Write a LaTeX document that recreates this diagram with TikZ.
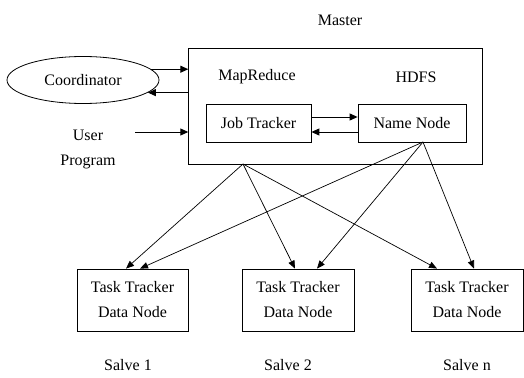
\documentclass[tikz,border=0pt]{standalone}
\usepackage{fontspec}
\setmainfont{Liberation Serif}
\usetikzlibrary{shapes.geometric,arrows.meta}
\begin{document}
\begin{tikzpicture}[x=1pt,y=-1pt,
  every node/.style={font=\fontsize{16}{25}\selectfont, inner sep=0pt},
  box/.style={draw, line width=0.8pt},
  arr/.style={-{Triangle[length=8pt,width=7pt]}, line width=1pt},
  darr/.style={-{Triangle[length=8pt,width=6.5pt]}, line width=0.7pt}]
\useasboundingbox (0,0) rectangle (524,377);
% nodes
\node (mastertxt) at (340,20) {Master};
\node[box, minimum width=294pt, minimum height=116pt] (master) at (335.7,106.3) {};
\node[box, ellipse, minimum width=152pt, minimum height=47pt] (coord) at (83,80) {Coordinator};
\node (mr) at (257,77) {MapReduce};
\node (hdfs) at (416,77) {HDFS};
\node[box, minimum width=105pt, minimum height=38pt] (jt) at (258.5,123) {Job Tracker};
\node[box, minimum width=108pt, minimum height=38pt] (nn) at (412,123) {Name Node};
\node[align=center] (user) at (88,149) {User\\Program};
\node[box, align=center, minimum width=111pt, minimum height=62pt] (s1) at (132.5,300) {Task Tracker\\Data Node};
\node[box, align=center, minimum width=112pt, minimum height=62pt] (s2) at (298,300) {Task Tracker\\Data Node};
\node[box, align=center, minimum width=112pt, minimum height=62pt] (s3) at (467,300) {Task Tracker\\Data Node};
\node (l1) at (128,365) {Salve 1};
\node (l2) at (288,365) {Salve 2};
\node (l3) at (467,365) {Salve n};
\coordinate (userstart) at (135,132);
\coordinate (mrsrc) at (243,164);
\coordinate (nnsrc) at (423,142);
% connectors
\draw[arr] (coord.9) -- (coord.9 -| master.west);
\draw[arr] (coord.-11 -| master.west) -- (coord.-11);
\draw[arr] (userstart) -- (userstart -| master.west);
\draw[arr] ([yshift=6pt]jt.east) -- ([yshift=6pt]nn.west);
\draw[arr] ([yshift=-9pt]nn.west) -- ([yshift=-9pt]jt.east);
\draw[darr] (mrsrc) -- ([xshift=-6.5pt]s1.north);
\draw[darr] (mrsrc) -- ([xshift=-3pt]s2.north);
\draw[darr] (mrsrc) -- ([xshift=-30pt]s3.north);
\draw[darr] (nnsrc) -- ([xshift=7.5pt]s1.north);
\draw[darr] (nnsrc) -- ([xshift=19pt]s2.north);
\draw[darr] (nnsrc) -- ([xshift=7pt]s3.north);
\end{tikzpicture}
\end{document}
